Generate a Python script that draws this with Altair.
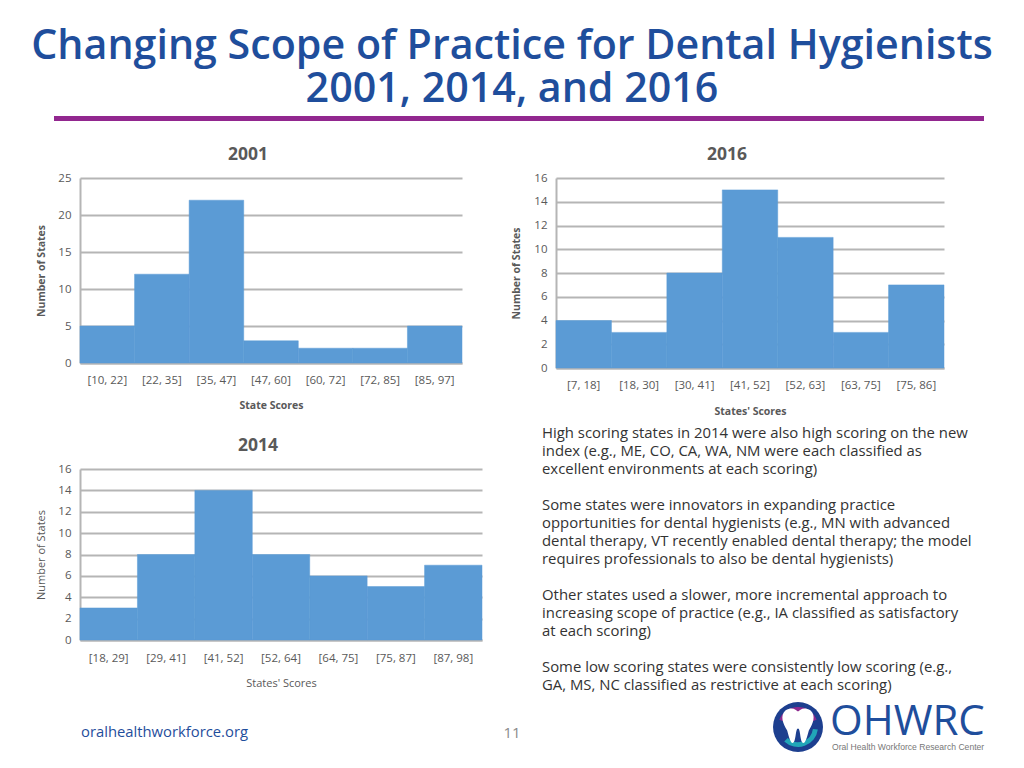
import altair as alt

FONT = "Open Sans"
GRAY = "#595959"
BLUE = "#5b9bd5"
NAVY = "#1f4e9c"

title_lines = ["Changing Scope of Practice for Dental Hygienists", "2001, 2014, and 2016"]

labels_2001 = ["[10, 22]", "[22, 35]", "[35, 47]", "[47, 60]", "[60, 72]", "[72, 85]", "[85, 97]"]
counts_2001 = [5, 12, 22, 3, 2, 2, 5]
labels_2016 = ["[7, 18]", "[18, 30]", "[30, 41]", "[41, 52]", "[52, 63]", "[63, 75]", "[75, 86]"]
counts_2016 = [4, 3, 8, 15, 11, 3, 7]
labels_2014 = ["[18, 29]", "[29, 41]", "[41, 52]", "[52, 64]", "[64, 75]", "[75, 87]", "[87, 98]"]
counts_2014 = [3, 8, 14, 8, 6, 5, 7]

body_lines = [
    "High scoring states in 2014 were also high scoring on the new",
    "index (e.g., ME, CO, CA, WA, NM  were each classified as",
    "excellent environments at each scoring)",
    "",
    "Some states were innovators in expanding practice",
    "opportunities for dental hygienists (e.g., MN with advanced",
    "dental therapy, VT recently enabled dental therapy; the model",
    "requires professionals to also be dental hygienists)",
    "",
    "Other states used a slower, more incremental approach to",
    "increasing scope of practice (e.g., IA classified as satisfactory",
    "at each scoring)",
    "",
    "Some low scoring states were consistently low scoring (e.g.,",
    "GA, MS, NC classified as restrictive at each scoring)",
]

ONE = alt.Data(values=[{}])


def note(text, x, y, size, color=GRAY, weight="normal", align="left", font=FONT):
    return alt.Chart(ONE).mark_text(
        text=text, fontSize=size, color=color, fontWeight=weight,
        align=align, baseline="middle", font=font,
    ).encode(x=alt.value(x), y=alt.value(y))


def hist(labels, counts, ymax, ystep, w, h, xtitle, ytitle, bold, xpad, ypad, tpad, tsize):
    rows = [{"bin": l, "n": c} for l, c in zip(labels, counts)]
    weight = "bold" if bold else "normal"
    return alt.Chart(alt.Data(values=rows)).mark_bar(color=BLUE, stroke=BLUE, strokeWidth=0.5).encode(
        x=alt.X("bin:N", sort=labels, title=xtitle,
                scale=alt.Scale(paddingInner=0, paddingOuter=0),
                axis=alt.Axis(labelAngle=0, ticks=False, grid=False, domainColor="#b5b5b5", domainWidth=2,
                              labelColor=GRAY, labelFont=FONT, labelFontSize=11.5, labelPadding=xpad,
                              titleColor=GRAY, titleFont=FONT, titleFontSize=tsize, titleFontWeight=weight,
                              titlePadding=tpad)),
        y=alt.Y("n:Q", title=ytitle,
                scale=alt.Scale(domain=[0, ymax], nice=False),
                axis=alt.Axis(values=list(range(0, ymax + 1, ystep)), ticks=False, grid=True,
                              gridColor="#b5b5b5", gridWidth=2, domainColor="#b5b5b5", domainWidth=2,
                              labelColor=GRAY, labelFont=FONT, labelFontSize=11.5, labelPadding=9,
                              titleColor=GRAY, titleFont=FONT, titleFontSize=tsize, titleFontWeight=weight,
                              titlePadding=ypad)),
    ).properties(width=w, height=h)


c2001 = hist(labels_2001, counts_2001, 25, 5, 382, 185, "State Scores", "Number of States", True, 11, 11, 15, 10.5)
c2016 = hist(labels_2016, counts_2016, 16, 2, 388, 190, "States' Scores", "Number of States", True, 11, 12, 16, 10.5)
c2014 = hist(labels_2014, counts_2014, 16, 2, 402, 171, "States' Scores", "Number of States", False, 12, 11, 14, 11)

# Panel origins on the page: 2001 (80,178), 2016 (556,178), 2014 (80,469), notes (556,469)
ox, oy = 80, 178
head = [note(t, 512 - ox, y - oy, 41.2, NAVY, 600, "center") for t, y in zip(title_lines, [47, 90])]
purple = alt.Chart(ONE).mark_rule(color="#92278f", strokeWidth=5).encode(
    x=alt.value(54 - ox), x2=alt.value(984 - ox), y=alt.value(118.5 - oy))
c2001 = alt.layer(c2001, purple, *head, note("2001", 248 - ox, 155 - oy, 17.5, GRAY, "bold", "center"))
c2016 = alt.layer(c2016, note("2016", 727 - 556, 155 - 178, 17.5, GRAY, "bold", "center"))
c2014 = alt.layer(c2014, note("2014", 258 - 80, 446 - 469, 17.5, GRAY, "bold", "center"))

px, py = 556, 469
layers = []
for i, line in enumerate(body_lines):
    if line:
        layers.append(note(line, 542 - px, 434 + 18 * i - py, 14.9, "#333333"))
layers.append(note("oralhealthworkforce.org", 81 - px, 733 - py, 14.8, NAVY))
layers.append(note("11", 512 - px, 733 - py, 15, "#8a8a8a", "normal", "center"))

# logo
cx, cy = 798 - px, 727 - py
layers.append(alt.Chart(ONE).mark_point(filled=True, color="#1d3f8f", opacity=1, size=2500, shape="circle").encode(
    x=alt.value(cx), y=alt.value(cy)))
layers.append(alt.Chart(ONE).mark_arc(color="#8e2a8f", innerRadius=11, outerRadius=20, theta=5.08, theta2=7.48).encode(
    x=alt.value(cx), y=alt.value(cy)))
layers.append(alt.Chart(ONE).mark_arc(color="#21a6b8", innerRadius=15, outerRadius=20, theta=1.7, theta2=3.9).encode(
    x=alt.value(cx), y=alt.value(cy)))
tooth = "M-0.7,-0.8 C-0.3,-1.05 -0.1,-0.8 0,-0.75 C0.1,-0.8 0.3,-1.05 0.7,-0.8 C1,-0.5 0.85,-0.1 0.6,0.3 C0.5,0.7 0.4,1 0.3,1 C0.1,1 0.15,0.2 0,0.2 C-0.15,0.2 -0.1,1 -0.3,1 C-0.4,1 -0.5,0.7 -0.6,0.3 C-0.85,-0.1 -1,-0.5 -0.7,-0.8 Z"
layers.append(alt.Chart(ONE).mark_point(filled=True, color="white", opacity=1, size=1300, shape=tooth).encode(
    x=alt.value(cx), y=alt.value(cy - 2)))
layers.append(note("OHWRC", 830 - px, 722 - py, 42, NAVY, "normal"))
layers.append(note("Oral Health Workforce Research Center", 832 - px, 747 - py, 8.6, "#777777", font="Liberation Sans"))

blank = alt.Chart(ONE).mark_rule(opacity=0).encode(x=alt.value(0), y=alt.value(0)).properties(width=388, height=171)
notes = alt.layer(blank, *layers)

chart = alt.concat(c2001, c2016, c2014, notes, columns=2, spacing={"column": 74, "row": 101},
                   bounds="flush").properties(padding={"left": 23, "top": 18, "right": 0, "bottom": 0}).configure_view(stroke=None)
chart.save("out.html", embed_options={"renderer": "svg", "actions": False})
